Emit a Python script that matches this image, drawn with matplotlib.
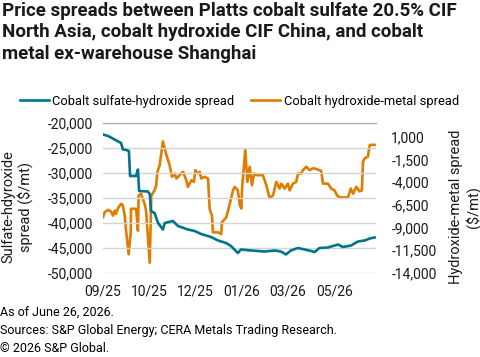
import matplotlib.pyplot as plt

plt.rcParams['font.family'] = ['Roboto', 'DejaVu Sans']

# Cobalt sulfate-hydroxide spread (left axis, $/mt), by trading-day index
sh_day = [0, 2.2, 5, 7.8, 8.6, 10, 11.2, 11.7, 14.3, 15.1, 15.6, 19.4, 20.3, 20.7,
          22.3, 23.8, 25.9, 26.7, 30.2, 32.4, 36.7, 39.6, 42.4, 46.7, 49.7, 53.2,
          55.3, 58.3, 59.6, 64, 69.9, 74.2, 76.9, 79.1, 81.2, 84.3, 87.2, 90.8,
          91.5, 93.6, 97.2, 101.6, 103.7, 107.2, 110.2, 113.1, 115.3, 117.4]
sh_val = [-22300, -22600, -23300, -24000, -25300, -25400, -25600, -30600, -30600,
          -29300, -33600, -33700, -34300, -37600, -38000, -40000, -41300, -40000,
          -39600, -40600, -41300, -41600, -42200, -42800, -43500, -44000, -44600,
          -46000, -45300, -45500, -45700, -45500, -45700, -46300, -45500, -45000,
          -45300, -45700, -45800, -45000, -44900, -44300, -44800, -44500, -43700,
          -43500, -43100, -42900]

# Cobalt hydroxide-metal spread (right axis, $/mt)
hm_day = [0, 0.7, 2.2, 3.5, 4.3, 5.1, 5.6, 6.5, 7.8, 8.6, 9.4, 9.9, 11.1, 12, 12.1,
          14.3, 15.1, 15.4, 16.4, 18, 18.6, 20.2, 20.9, 22.3, 23, 23.5, 24.5, 25.9,
          27.4, 28.8, 29.8, 31, 31.7, 33.1, 34.6, 36, 36.7, 38.2, 39.3, 39.9, 41,
          41.8, 42.5, 43.9, 45.4, 46.1, 47.1, 47.5, 49.7, 51.1, 51.4, 53.3, 54.8,
          56.2, 56.9, 58.3, 59.1, 59.8, 60.2, 61.5, 62.4, 63.4, 64.4, 65.3, 66.2,
          69.1, 70.6, 72, 73.5, 74.9, 76.4, 77.1, 78.5, 79.9, 80.7, 82.1, 83.5,
          84.3, 85.7, 86.4, 87.9, 89.3, 90.7, 91.5, 94.3, 95.1, 97.2, 98.7, 100.1,
          101.3, 103, 105.9, 107.1, 108.1, 109.5, 110.9, 111.9, 112.4, 113.1,
          114.5, 115.3, 117.4]
hm_val = [-7870, -7310, -7060, -7240, -7690, -7130, -7500, -6870, -6390, -6580,
          -7690, -9170, -11940, -9530, -6940, -6940, -9350, -5470, -5280, -6390,
          -7130, -12870, -5470, -4910, -4350, -2870, -2130, 470, -1020, -2130,
          -3420, -3060, -3610, -3240, -2870, -3800, -4530, -3800, -3980, -2690,
          -3060, -2870, -3610, -3420, -3610, -6940, -7690, -9530, -9530, -9720,
          -8420, -7870, -6390, -4910, -4530, -4910, -6500, -6900, -4350, -470,
          -3980, -2310, -4350, -3060, -3240, -3240, -4350, -5750, -5470, -3980,
          -4720, -4170, -4720, -4170, -4910, -4170, -3980, -3060, -3060, -2690,
          -2310, -2690, -2500, -2500, -2760, -4170, -4170, -4720, -4910, -5530,
          -5690, -5690, -4720, -5280, -4530, -5020, -4910, -1760, -1390, -1200,
          90, 90]

tick_pos = [0, 20, 40, 60, 80, 100]
tick_lab = ['09/25', '10/25', '12/25', '01/26', '03/26', '05/26']
left_ticks = [-50000, -45000, -40000, -35000, -30000, -25000, -20000]
right_ticks = [-14000, -11500, -9000, -6500, -4000, -1500, 1000]

teal = '#00748c'
orange = '#e07c00'

fig = plt.figure(figsize=(4.8, 3.57), dpi=100)
ax = fig.add_axes([0.2146, 0.2353, 0.5687, 0.4202])
ax2 = ax.twinx()

l1, = ax.plot(sh_day, sh_val, color=teal, lw=1.9, zorder=3)
l2, = ax2.plot(hm_day, hm_val, color=orange, lw=1.9)

ax.set_zorder(ax2.get_zorder() + 1)
ax.patch.set_visible(False)

ax.set_xlim(0, 118)
ax.set_ylim(-50000, -20000)
ax2.set_ylim(-14000, 2500)
ax.set_yticks(left_ticks)
ax.set_yticklabels([f'{v:,}' for v in left_ticks])
ax2.set_yticks(right_ticks)
ax2.set_yticklabels([f'{v:,}' for v in right_ticks])
ax.set_xticks(tick_pos)
ax.set_xticklabels(tick_lab)

ax.grid(axis='y', color='#d3d3d3', lw=1)
for a in (ax, ax2):
    for s in a.spines.values():
        s.set_visible(False)
    a.tick_params(length=0, labelsize=10, colors='#1a1a1a')
ax.spines['top'].set_visible(True)
ax.spines['top'].set_color('#a6a6a6')
ax.tick_params(axis='y', pad=7)
ax.tick_params(axis='x', pad=8)
ax2.tick_params(axis='y', pad=11)

# axis titles
fig.text(0.036, 0.42, 'Sulfate-hdyroxide\nspread ($/mt)', fontsize=10.5,
         rotation=90, ha='center', va='center', color='#1a1a1a')
fig.text(0.969, 0.42, 'Hydroxide-metal spread\n($/mt)', fontsize=10.5,
         rotation=90, ha='center', va='center', color='#1a1a1a')

fig.legend([l1, l2], ['Cobalt sulfate-hydroxide spread', 'Cobalt hydroxide-metal spread'],
           loc='center left', bbox_to_anchor=(0.042, 0.717), ncol=2, frameon=False,
           fontsize=9.3, handlelength=2.2, handletextpad=0.3, columnspacing=1.3,
           borderaxespad=0, borderpad=0)

fig.text(0.004, 0.995, 'Price spreads between Platts cobalt sulfate 20.5% CIF\n'
         'North Asia, cobalt hydroxide CIF China, and cobalt\n'
         'metal ex-warehouse Shanghai', fontsize=13.5, fontweight='bold',
         va='top', ha='left', linespacing=1.25, color='#1a1a1a')

fig.text(0.0, 0.123, 'As of June 26, 2026.', fontsize=9, va='center')
fig.text(0.0, 0.073, 'Sources: S&P Global Energy; CERA Metals Trading Research.',
         fontsize=9, va='center')
fig.text(0.0, 0.023, '\u00a9 2026 S&P Global.', fontsize=9, va='center')

fig.savefig('out.png', dpi=100)
